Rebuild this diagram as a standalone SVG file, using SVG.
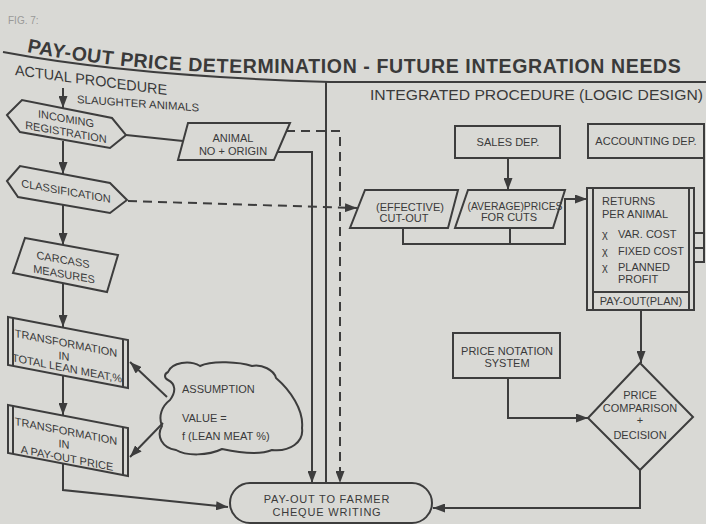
<svg xmlns="http://www.w3.org/2000/svg" width="706" height="524" viewBox="0 0 706 524">
<defs>
<style>
.ln{fill:none;stroke:#3d3d3d;stroke-width:2}
.sh{fill:none;stroke:#3d3d3d;stroke-width:2;stroke-linejoin:miter}
.ds{fill:none;stroke:#3d3d3d;stroke-width:2;stroke-dasharray:9 6}
.t{font-family:"Liberation Sans",Arial,sans-serif;font-size:11px;fill:#3a3a3a;text-anchor:middle}
.ts{font-family:"Liberation Sans",Arial,sans-serif;font-size:11px;fill:#3a3a3a}
.hd{font-family:"Liberation Sans",Arial,sans-serif;fill:#3a3a3a}
</style>
<marker id="ah" viewBox="0 0 12 9" refX="12" refY="4.5" markerWidth="12" markerHeight="9" orient="auto" markerUnits="userSpaceOnUse">
<path d="M0,0 L12,4.5 L0,9 Z" fill="#3d3d3d"/>
</marker>
<path id="tp" d="M27,52 Q120,70 240,73 L700,73" fill="none"/>
</defs>
<rect x="0" y="0" width="706" height="524" fill="#d9d9d5"/>

<g id="header">
<text x="8" y="24" font-family="Liberation Sans, Arial, sans-serif" font-size="10" fill="#9a9a98">FIG. 7:</text>
<text class="hd" font-size="19.5" font-weight="bold"><textPath href="#tp" textLength="655" lengthAdjust="spacing">PAY-OUT PRICE DETERMINATION - FUTURE INTEGRATION NEEDS</textPath></text>
<path class="ln" d="M3,52 Q130,76 330,82 L706,82"/>
<line class="ln" x1="326" y1="82" x2="326" y2="483"/>
<text class="hd" font-size="14.5" transform="translate(15,75) skewY(7.5)" textLength="152" lengthAdjust="spacingAndGlyphs">ACTUAL PROCEDURE</text>
<text class="hd" font-size="11" transform="translate(77,103) skewY(4)" textLength="122" lengthAdjust="spacingAndGlyphs">SLAUGHTER ANIMALS</text>
<text class="hd" font-size="15" x="370" y="100" textLength="333" lengthAdjust="spacingAndGlyphs">INTEGRATED PROCEDURE (LOGIC DESIGN)</text>
</g>

<g id="connectors">
<line class="ln" x1="63" y1="88" x2="63" y2="108" marker-end="url(#ah)"/>
<line class="ln" x1="63" y1="141" x2="63" y2="174" marker-end="url(#ah)"/>
<line class="ln" x1="63" y1="205" x2="63" y2="245" marker-end="url(#ah)"/>
<line class="ln" x1="63" y1="283" x2="63" y2="327" marker-end="url(#ah)"/>
<line class="ln" x1="63" y1="376" x2="63" y2="415" marker-end="url(#ah)"/>
<polyline class="ln" points="63,464 63,490 228,507" marker-end="url(#ah)"/>
<line class="ln" x1="126" y1="135" x2="183" y2="141"/>
<polyline class="ln" points="277,152 312,152 312,483" marker-end="url(#ah)"/>
<polyline class="ds" points="286,131 340,131 340,483" marker-end="url(#ah)"/>
<line class="ds" x1="128" y1="201" x2="357" y2="208" marker-end="url(#ah)"/>
<line class="ln" x1="167" y1="397" x2="130" y2="362" marker-end="url(#ah)"/>
<line class="ln" x1="163" y1="423" x2="130" y2="457" marker-end="url(#ah)"/>
<line class="ln" x1="508" y1="158" x2="508" y2="190" marker-end="url(#ah)"/>
<polyline class="ln" points="403,228 403,244 565,244 565,199 587,199" marker-end="url(#ah)"/>
<line class="ln" x1="510" y1="228" x2="510" y2="244"/>
<polyline class="ln" points="704,158 704,262 694,262"/>
<line class="ln" x1="694" y1="233" x2="704" y2="233"/>
<line class="ln" x1="694" y1="248" x2="704" y2="248"/>
<line class="ln" x1="641" y1="310" x2="641" y2="363" marker-end="url(#ah)"/>
<polyline class="ln" points="508,378 508,418 588,418" marker-end="url(#ah)"/>
<polyline class="ln" points="640,470 640,508 433,508" marker-end="url(#ah)"/>
</g>

<g id="incoming">
<polygon class="sh" points="7,115 22,100 112,118 126,135 110,148 20,132"/>
<text class="t" transform="translate(66,122.5) skewY(10)">INCOMING</text>
<text class="t" transform="translate(66,136) skewY(10)">REGISTRATION</text>
</g>

<g id="classification">
<polygon class="sh" points="7,181 20,166 110,183 127,200 110,213 18,197"/>
<text class="t" transform="translate(66,195) skewY(10)">CLASSIFICATION</text>
</g>

<g id="carcass">
<polygon class="sh" points="25,238 118,255 107,292 13,273"/>
<text class="t" transform="translate(63,263.5) skewY(10)">CARCASS</text>
<text class="t" transform="translate(64,278) skewY(10)">MEASURES</text>
</g>

<g id="transform1">
<polygon class="sh" points="8,317 128,340 128,388 8,365"/>
<line class="ln" x1="13" y1="318" x2="13" y2="366"/>
<line class="ln" x1="123" y1="339" x2="123" y2="387"/>
<text class="t" transform="translate(66,347) skewY(11)">TRANSFORMATION</text>
<text class="t" transform="translate(64,360) skewY(11)">IN</text>
<text class="t" transform="translate(67,372) skewY(11)">TOTAL LEAN MEAT,%</text>
</g>

<g id="transform2">
<polygon class="sh" points="8,405 128,428 128,476 8,453"/>
<line class="ln" x1="13" y1="406" x2="13" y2="454"/>
<line class="ln" x1="123" y1="427" x2="123" y2="475"/>
<text class="t" transform="translate(66,435) skewY(11)">TRANSFORMATION</text>
<text class="t" transform="translate(64,448) skewY(11)">IN</text>
<text class="t" transform="translate(67,462) skewY(11)">A PAY-OUT PRICE</text>
</g>

<g id="assumption">
<path class="sh" d="M168,372 C172,362 190,360 200,366 C212,360 240,362 252,366 C262,364 274,370 276,378 C290,390 304,410 302,428 C304,442 290,452 272,450 C258,456 236,452 222,449 C208,456 186,456 176,450 C162,448 156,436 162,426 C158,416 162,406 170,400 C176,392 176,384 168,380 C164,378 164,374 168,372 Z"/>
<text class="ts" x="182" y="393">ASSUMPTION</text>
<text class="ts" x="182" y="422">VALUE =</text>
<text class="ts" x="182" y="440">f (LEAN MEAT %)</text>
</g>

<g id="animal">
<polygon class="sh" points="188,123 290,123 274,160 178,160"/>
<text class="t" x="233" y="142">ANIMAL</text>
<text class="t" x="233" y="155">NO + ORIGIN</text>
</g>

<g id="payout">
<rect class="sh" x="230" y="483" width="202" height="40" rx="20" ry="20"/>
<text class="t" x="327" y="503" letter-spacing="0.8">PAY-OUT TO FARMER</text>
<text class="t" x="327" y="516" letter-spacing="0.8">CHEQUE WRITING</text>
</g>

<g id="sales">
<rect class="sh" x="455" y="126" width="105" height="32"/>
<text class="t" x="508" y="146">SALES DEP.</text>
</g>

<g id="accounting">
<rect class="sh" x="588" y="124" width="116" height="34"/>
<text class="t" x="646" y="145">ACCOUNTING DEP.</text>
</g>

<g id="cutout">
<polygon class="sh" points="365,190 458,190 448,228 350,228"/>
<text class="t" x="410" y="210.5">(EFFECTIVE)</text>
<text class="t" x="404" y="222">CUT-OUT</text>
</g>

<g id="prices">
<polygon class="sh" points="468,190 565,190 553,228 455,228"/>
<text class="t" x="515" y="210" textLength="95" lengthAdjust="spacingAndGlyphs">(AVERAGE)PRICES</text>
<text class="t" x="509" y="221">FOR CUTS</text>
</g>

<g id="returns">
<rect class="sh" x="587" y="188" width="107" height="122"/>
<line class="ln" x1="593" y1="188" x2="593" y2="310"/>
<line class="ln" x1="689" y1="188" x2="689" y2="310"/>
<line class="ln" x1="593" y1="292" x2="689" y2="292"/>
<text class="ts" x="602" y="205">RETURNS</text>
<text class="ts" x="602" y="218">PER ANIMAL</text>
<text class="ts" x="602" y="238">χ<tspan x="618">VAR. COST</tspan></text>
<text class="ts" x="602" y="255">χ<tspan x="618">FIXED COST</tspan></text>
<text class="ts" x="602" y="271">χ<tspan x="618">PLANNED</tspan></text>
<text class="ts" x="618" y="283">PROFIT</text>
<text class="t" x="641" y="305">PAY-OUT(PLAN)</text>
</g>

<g id="notation">
<rect class="sh" x="453" y="333" width="107" height="45"/>
<text class="t" x="507" y="355">PRICE NOTATION</text>
<text class="t" x="507" y="367">SYSTEM</text>
</g>

<g id="decision">
<polygon class="sh" points="640,363 693,417 640,470 588,418"/>
<text class="t" x="640" y="399">PRICE</text>
<text class="t" x="640" y="412">COMPARISON</text>
<text class="t" x="640" y="424">+</text>
<text class="t" x="640" y="439">DECISION</text>
</g>
</svg>
